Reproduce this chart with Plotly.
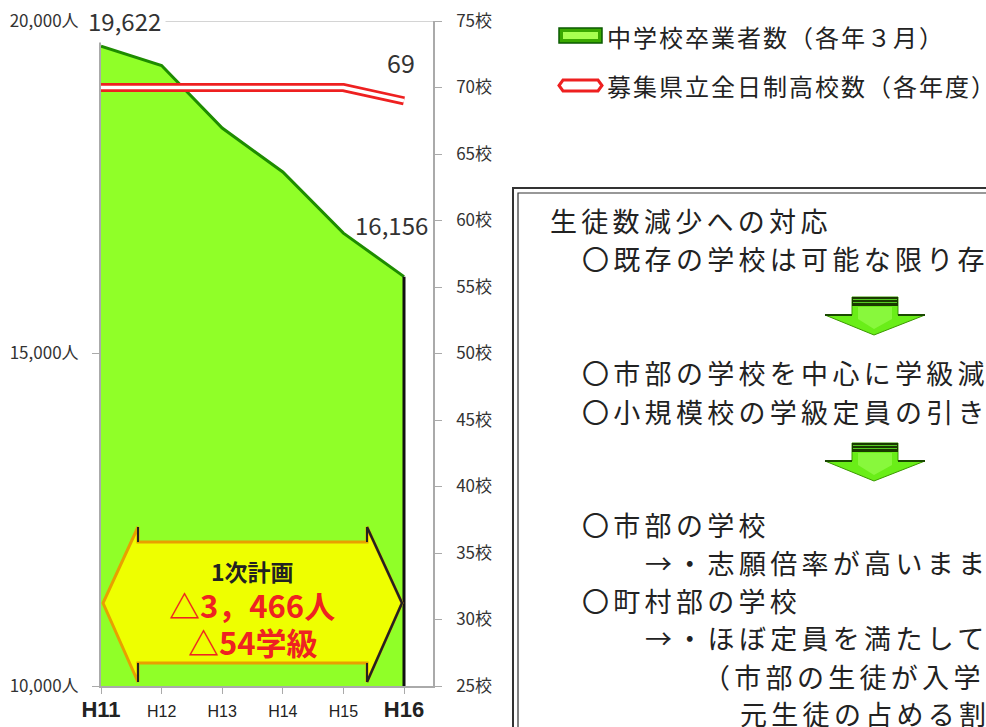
import plotly.graph_objects as go

# ---------------- data ----------------
years = ["H11", "H12", "H13", "H14", "H15", "H16"]
graduates = [19622, 19330, 18390, 17730, 16810, 16156]      # 中学校卒業者数(各年3月)
schools = [70, 70, 70, 70, 70, 69]                          # 募集県立全日制高校数(各年度)
graduate_labels = ["19,622", "16,156"]
school_label = "69"
left_ticks = [10000, 15000, 20000]
left_ticktext = ["10,000人", "15,000人", "20,000人"]
right_ticks = [25, 30, 35, 40, 45, 50, 55, 60, 65, 70, 75]
right_ticktext = [f"{v}校" for v in right_ticks]
year_ticktext = [
    '<b><span style="font-size:22px">H11</span></b>', "H12", "H13", "H14", "H15",
    '<b><span style="font-size:22px">H16</span></b>',
]
legend_names = ["中学校卒業者数（各年３月）", "募集県立全日制高校数（各年度）"]
plan_texts = ["1次計画", "△3，466人", "△54学級"]
box_lines = [
    ("生徒数減少への対応", 548, 221),
    ("〇既存の学校は可能な限り存", 580, 258),
    ("〇市部の学校を中心に学級減", 580, 373),
    ("〇小規模校の学級定員の引き", 580, 411),
    ("〇市部の学校", 580, 524),
    ("→・志願倍率が高いまま", 643, 562),
    ("〇町村部の学校", 580, 600),
    ("→・ほぼ定員を満たして", 643, 637),
    ("（市部の生徒が入学", 701, 676),
    ("元生徒の占める割", 738, 713),
]

W, H = 986, 727
FONT = "Noto Sans CJK JP"


def P(x, y):
    return f"{x / W:.5f},{1 - y / H:.5f}"


def path(pts, close=True):
    s = "M " + " L ".join(P(x, y) for x, y in pts)
    return s + (" Z" if close else "")


fig = go.Figure()

# green area
fig.add_trace(go.Scatter(
    x=years, y=graduates, mode="lines", fill="tozeroy",
    fillcolor="#90ff28", line=dict(color="#1e8c00", width=3),
    yaxis="y", hoverinfo="skip", showlegend=False,
))
# dark right edge of area
fig.add_trace(go.Scatter(
    x=[years[-1], years[-1]], y=[graduates[-1], left_ticks[0]], mode="lines",
    line=dict(color="#111111", width=3), yaxis="y", hoverinfo="skip", showlegend=False,
))
# red double line (outer red, inner white)
fig.add_trace(go.Scatter(
    x=years, y=schools, mode="lines", line=dict(color="#ee2020", width=9),
    yaxis="y2", hoverinfo="skip", showlegend=False,
))
fig.add_trace(go.Scatter(
    x=years, y=schools, mode="lines", line=dict(color="#ffffff", width=3.5),
    yaxis="y2", hoverinfo="skip", showlegend=False,
))

shapes = []
annotations = []


def note(x, y, text, size, color="#222222", xanchor="center", **kw):
    d = dict(xref="paper", yref="paper", x=x / W, y=1 - y / H, text=text, showarrow=False,
             xanchor=xanchor, yanchor="middle", font=dict(family=FONT, size=size, color=color))
    d.update(kw)
    annotations.append(d)


# top gridline at 20,000
shapes.append(dict(type="line", xref="paper", yref="y", x0=101 / W, x1=433 / W,
                   y0=left_ticks[-1], y1=left_ticks[-1], line=dict(color="#aaaaaa", width=1),
                   layer="below"))

# value labels
annotations.append(dict(x=years[0], y=graduates[0], xref="x", yref="y", text=graduate_labels[0],
                        showarrow=False, xshift=23, yshift=26, bgcolor="white", borderpad=4,
                        xanchor="center", yanchor="middle",
                        font=dict(family=FONT, size=24, color="#333333")))
annotations.append(dict(x=years[-1], y=graduates[-1], xref="x", yref="y", text=graduate_labels[1],
                        showarrow=False, xshift=-13, yshift=52, xanchor="center", yanchor="middle",
                        font=dict(family=FONT, size=24, color="#333333")))
annotations.append(dict(x=years[-1], y=schools[-1], xref="x", yref="y2", text=school_label,
                        showarrow=False, xshift=-3, yshift=39, xanchor="center", yanchor="middle",
                        font=dict(family=FONT, size=25, color="#333333")))

# hexagon double arrow (1次計画)
hexpts = [(103, 603), (138, 527), (138, 542), (367, 542), (367, 527), (402, 603),
          (367, 682), (367, 663), (138, 663), (138, 682)]
shapes.append(dict(type="path", xref="paper", yref="paper", path=path(hexpts),
                   fillcolor="#eeff00", line=dict(color="#e8a000", width=3)))
shapes.append(dict(type="path", xref="paper", yref="paper",
                   path=path([(367, 527), (402, 603), (367, 682)], close=False),
                   line=dict(color="#222222", width=2.5)))
shapes.append(dict(type="path", xref="paper", yref="paper",
                   path=path([(138, 527), (138, 542)], close=False) + " " +
                   path([(138, 663), (138, 682)], close=False) + " " +
                   path([(367, 527), (367, 542)], close=False) + " " +
                   path([(367, 663), (367, 682)], close=False),
                   line=dict(color="#222222", width=2)))
note(252, 571, f"<b>{plan_texts[0]}</b>", 23, "#222222")
note(252, 604, f"<b>{plan_texts[1]}</b>", 31, "#ee2222")
note(253, 641, f"<b>{plan_texts[2]}</b>", 31, "#ee2222")

# legend
shapes.append(dict(type="rect", xref="paper", yref="paper", x0=559 / W, x1=602 / W,
                   y0=1 - 43 / H, y1=1 - 28 / H, fillcolor="#3aa800", line=dict(color="#0a5a00", width=1.5)))
shapes.append(dict(type="rect", xref="paper", yref="paper", x0=563 / W, x1=598 / W,
                   y0=1 - 39 / H, y1=1 - 32 / H, fillcolor="#a8ff50", line=dict(width=0)))
shapes.append(dict(type="path", xref="paper", yref="paper",
                   path=path([(563, 80), (598, 80), (602, 85.5), (598, 91), (563, 91), (559, 85.5)]),
                   fillcolor="white", line=dict(color="#ee2020", width=3)))
note(605, 37, f'<span style="letter-spacing:2px">{legend_names[0]}</span>', 24, xanchor="left")
note(605, 86, f'<span style="letter-spacing:2px">{legend_names[1]}</span>', 24, xanchor="left")

# text box with double border
shapes.append(dict(type="rect", xref="paper", yref="paper", x0=513 / W, x1=1010 / W,
                   y0=1 - 760 / H, y1=1 - 188 / H, line=dict(color="#333333", width=2)))
shapes.append(dict(type="rect", xref="paper", yref="paper", x0=518 / W, x1=1005 / W,
                   y0=1 - 755 / H, y1=1 - 193 / H, line=dict(color="#333333", width=1.2)))
for txt, x, y in box_lines:
    note(x, y, f'<span style="letter-spacing:4.3px">{txt}</span>', 27, xanchor="left")

# green down arrows
for top in (297, 443):
    pts = [(852, top), (898, top), (898, top + 18), (925, top + 18), (874, top + 38),
           (825, top + 18), (852, top + 18)]
    shapes.append(dict(type="path", xref="paper", yref="paper", path=path(pts),
                       fillcolor="#6aee18", line=dict(color="#3a9a00", width=1)))
    shapes.append(dict(type="rect", xref="paper", yref="paper", x0=852 / W, x1=898 / W,
                       y0=1 - (top + 9) / H, y1=1 - top / H, fillcolor="#1a3a00", line=dict(width=0)))
    for dy in (2.5, 5.5):
        shapes.append(dict(type="line", xref="paper", yref="paper", x0=853 / W, x1=897 / W,
                           y0=1 - (top + dy) / H, y1=1 - (top + dy) / H,
                           line=dict(color="#55cc22", width=1)))
    shapes.append(dict(type="path", xref="paper", yref="paper",
                       path=path([(825, top + 18), (852, top + 18)], close=False) + " " +
                       path([(898, top + 18), (925, top + 18)], close=False),
                       line=dict(color="#1a4a00", width=2)))
    shapes.append(dict(type="path", xref="paper", yref="paper",
                       path=path([(858, top + 10), (892, top + 10), (892, top + 22), (874, top + 32),
                                  (858, top + 22)]),
                       fillcolor="#9cff55", line=dict(width=0), opacity=0.6))

fig.update_layout(
    width=W, height=H, margin=dict(l=0, r=0, t=0, b=0, autoexpand=False),
    paper_bgcolor="white", plot_bgcolor="rgba(0,0,0,0)",
    showlegend=False,
    font=dict(family=FONT, color="#333333"),
    xaxis=dict(
        domain=[101 / W, 433 / W], type="category", range=[0, 5 * (433 - 101) / (404 - 101)],
        tickmode="array", tickvals=years, ticktext=year_ticktext, automargin=False,
        showline=True, linecolor="#aaaaaa", linewidth=1.5,
        ticks="outside", ticklen=6, tickcolor="#aaaaaa", showgrid=False, zeroline=False,
        tickfont=dict(family="Liberation Sans", size=16, color="#222222"), ticklabelstandoff=4,
    ),
    yaxis=dict(
        domain=[1 - 686 / H, 1 - 21 / H], range=[10000, 20000], automargin=False,
        tickmode="array", tickvals=left_ticks, ticktext=left_ticktext,
        showline=True, linecolor="#aaaaaa", linewidth=2,
        ticks="outside", ticklen=7, tickcolor="#aaaaaa", showgrid=False, zeroline=False,
        tickfont=dict(family=FONT, size=17, color="#333333"), ticklabelstandoff=10,
    ),
    yaxis2=dict(
        overlaying="y", side="right", range=[25, 75], automargin=False,
        tickmode="array", tickvals=right_ticks, ticktext=right_ticktext,
        showline=True, linecolor="#aaaaaa", linewidth=1.5,
        ticks="outside", ticklen=7, tickcolor="#aaaaaa", showgrid=False, zeroline=False,
        tickfont=dict(family=FONT, size=17, color="#333333"), ticklabelstandoff=11,
    ),
    shapes=shapes, annotations=annotations,
)

fig.write_html("out.html", config={"displayModeBar": False},
               post_script="document.body.style.margin='0';document.body.style.overflow='hidden';")
